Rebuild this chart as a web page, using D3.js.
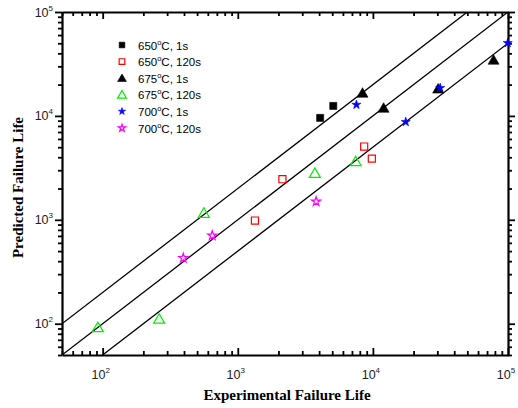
<!DOCTYPE html>
<html>
<head>
<meta charset="utf-8">
<script src="https://cdn.jsdelivr.net/npm/d3@7"></script>
<style>
  html, body { margin: 0; padding: 0; background: #fff; }
  svg { display: block; }
</style>
</head>
<body>
<svg id="chart" width="518" height="408"></svg>
<script>
// Experimental vs predicted failure life, per temperature / hold time
const seriesNames = ["650", "650", "675", "675", "700", "700"];
const holdTimes = ["1s", "120s", "1s", "120s", "1s", "120s"];
const seriesColors = ["#000000", "#ff0000", "#000000", "#00ee00", "#0000ff", "#ff00ff"];
const seriesShapes = ["square", "square", "triangle", "triangle", "star", "star"];
const seriesFilled = [true, false, true, false, true, false];

const exp650_1s = [4070, 5090];
const pred650_1s = [9570, 12470];
const exp650_120s = [2140, 1340, 8620, 9820];
const pred650_120s = [2460, 984, 5070, 3880];
const exp675_1s = [8380, 12000, 30400, 78200];
const pred675_1s = [16600, 11900, 18200, 34500];
const exp675_120s = [92, 262, 561, 3720, 7460];
const pred675_120s = [92, 111, 1160, 2810, 3640];
const exp700_1s = [7550, 17500, 31500, 99500];
const pred700_1s = [12800, 8750, 18600, 50300];
const exp700_120s = [647, 395, 3800];
const pred700_120s = [706, 429, 1500];

const expValues = [exp650_1s, exp650_120s, exp675_1s, exp675_120s, exp700_1s, exp700_120s];
const predValues = [pred650_1s, pred650_120s, pred675_1s, pred675_120s, pred700_1s, pred700_120s];

// Scatter-band factors: predicted = factor * experimental
const bandFactors = [2, 1, 0.5];
const decadeTicks = [100, 1000, 10000, 100000];
const decadeExponents = ["2", "3", "4", "5"];
const domainMin = 50, domainMax = 100000;

const svg = d3.select("#chart");
const margin = { left: 62, right: 10, top: 12, bottom: 53 };
const W = 518, H = 408;
const x = d3.scaleLog().domain([domainMin, domainMax]).range([margin.left, W - margin.right]);
const y = d3.scaleLog().domain([domainMin, domainMax]).range([H - margin.bottom, margin.top]);

const x0 = x.range()[0], x1 = x.range()[1];
const y0 = y.range()[0], y1 = y.range()[1];

svg.append("defs").append("clipPath").attr("id", "plotClip")
  .append("rect").attr("x", x0).attr("y", y1).attr("width", x1 - x0).attr("height", y0 - y1);

// Band lines
const lineGen = d3.line().x(d => x(d[0])).y(d => y(d[1]));
const gLines = svg.append("g").attr("clip-path", "url(#plotClip)");
bandFactors.forEach(f => {
  const pts = [[domainMin / 4, domainMin / 4 * f], [domainMax * 4, domainMax * 4 * f]];
  gLines.append("path").attr("d", lineGen(pts))
    .attr("fill", "none").attr("stroke", "#000").attr("stroke-width", 1.3);
});

// Axes with inward ticks on all four sides
const allTicks = x.ticks();
function isMajor(v) { return Math.abs(Math.log10(v) - Math.round(Math.log10(v))) < 1e-9; }
const majorLen = 7, minorLen = 4;

const gAxes = svg.append("g");
function inwardAxis(axisFn, scale, transform, sign) {
  const g = gAxes.append("g").attr("transform", transform)
    .call(axisFn(scale).tickValues(allTicks).tickFormat("").tickSizeOuter(0)
      .tickSizeInner(sign * majorLen));
  g.selectAll(".tick line")
    .attr(axisFn === d3.axisBottom || axisFn === d3.axisTop ? "y2" : "x2",
      d => sign * (isMajor(d) ? majorLen : minorLen))
    .attr("stroke-width", 1.8);
  g.select(".domain").attr("stroke-width", 2.2);
  return g;
}
inwardAxis(d3.axisBottom, x, `translate(0,${y0})`, -1);
inwardAxis(d3.axisTop, x, `translate(0,${y1})`, 1);
inwardAxis(d3.axisLeft, y, `translate(${x0},0)`, -1);
inwardAxis(d3.axisRight, y, `translate(${x1},0)`, 1);

// Tick labels 10^n
const labelFont = "'Liberation Sans', Arial, sans-serif";
decadeTicks.forEach((v, i) => {
  const tx = svg.append("text").attr("x", x(v) - 2).attr("y", y0 + 24)
    .attr("text-anchor", "middle").attr("font-family", labelFont).attr("font-size", 12.5)
    .attr("fill", "#222");
  tx.append("tspan").text("10");
  tx.append("tspan").attr("dy", -6).attr("font-size", 8).text(decadeExponents[i]);

  const ty = svg.append("text").attr("x", x0 - 9).attr("y", y(v) + 4.5)
    .attr("text-anchor", "end").attr("font-family", labelFont).attr("font-size", 12.5)
    .attr("fill", "#222");
  ty.append("tspan").text("10");
  ty.append("tspan").attr("dy", -6).attr("font-size", 8).text(decadeExponents[i]);
});

// Axis titles
const titleFont = "'Liberation Serif', 'Times New Roman', serif";
svg.append("text").attr("x", (x0 + x1) / 2 + 2).attr("y", 400)
  .attr("text-anchor", "middle").attr("font-family", titleFont)
  .attr("font-weight", "bold").attr("font-size", 15).text("Experimental Failure Life");
svg.append("text").attr("transform", `translate(23,${(y0 + y1) / 2 + 4}) rotate(-90)`)
  .attr("text-anchor", "middle").attr("font-family", titleFont)
  .attr("font-weight", "bold").attr("font-size", 15).text("Predicted Failure Life");

// Marker shapes
const symbolTypes = { square: d3.symbolSquare, triangle: d3.symbolTriangle, star: d3.symbolStar };
const symbolSizes = { square: 50, triangle: 52, star: 26 };
function drawMarker(g, i, px, py, scale) {
  const shape = seriesShapes[i];
  const sym = d3.symbol().type(symbolTypes[shape]).size(symbolSizes[shape] * scale * scale);
  const dy = shape === "triangle" ? 1 * scale : 0;
  g.append("path").attr("d", sym())
    .attr("transform", `translate(${px},${py + dy})`)
    .attr("fill", seriesFilled[i] ? seriesColors[i] : "none")
    .attr("stroke", seriesColors[i])
    .attr("stroke-width", seriesFilled[i] ? 0.6 : 1.2);
}

const gPts = svg.append("g");
expValues.forEach((xs, i) => {
  xs.forEach((ev, j) => drawMarker(gPts, i, x(ev), y(predValues[i][j]), 1));
});

// Legend
const gLeg = svg.append("g");
const legX = 122, legY = 45, legStep = 16.6;
seriesNames.forEach((name, i) => {
  const ly = legY + i * legStep;
  drawMarker(gLeg, i, legX, ly, 0.8);
  const t = gLeg.append("text").attr("x", legX + 16).attr("y", ly + 4.5)
    .attr("font-family", labelFont).attr("font-size", 11.5);
  t.append("tspan").text(name);
  t.append("tspan").attr("dy", -5).attr("font-size", 7.5).text("o");
  t.append("tspan").attr("dy", 5).text("C, " + holdTimes[i]);
});
</script>
</body>
</html>
